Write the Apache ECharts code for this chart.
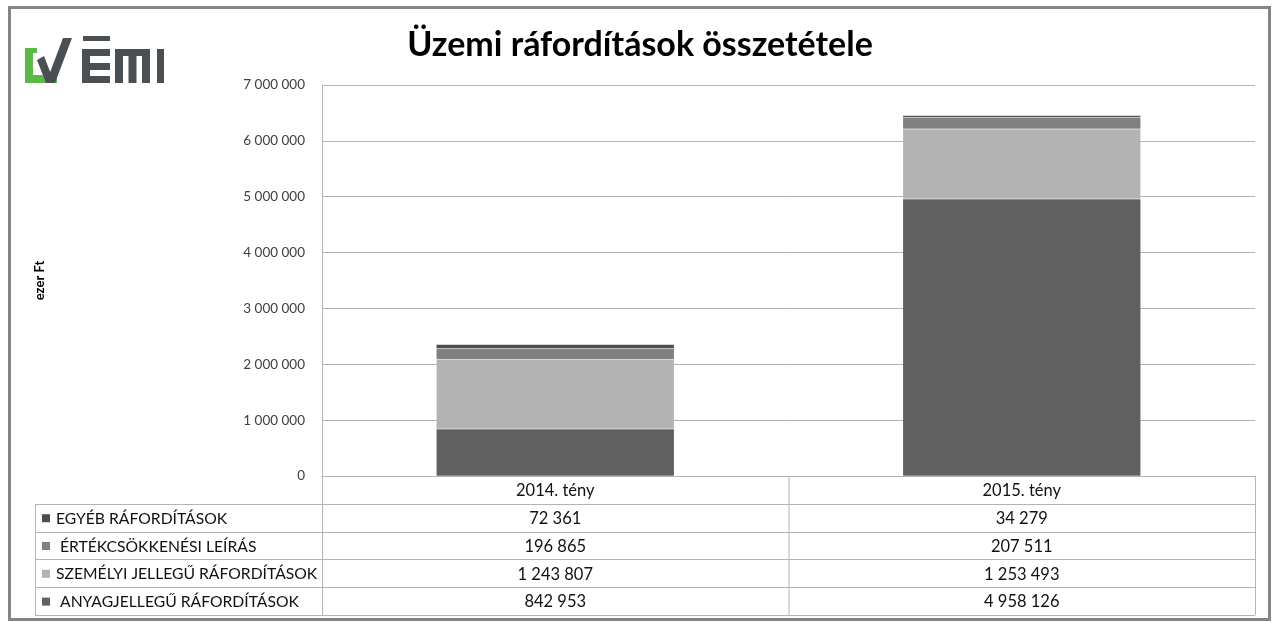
<!DOCTYPE html>
<html>
<head>
<meta charset="utf-8">
<script src="https://cdn.jsdelivr.net/npm/echarts@6/dist/echarts.min.js"></script>
<style>
  html, body { margin: 0; padding: 0; background: #fff; }
  #chart { width: 1276px; height: 622px; }
</style>
</head>
<body>
<div id="chart"></div>
<script>
// adatok
const categories = ['2014. tény', '2015. tény'];
const anyag = [842953, 4958126];
const szemelyi = [1243807, 1253493];
const ertekcsokk = [196865, 207511];
const egyeb = [72361, 34279];
const yTicks = [0, 1000000, 2000000, 3000000, 4000000, 5000000, 6000000, 7000000];

// sorrend a táblázatban (felülről lefelé)
const rows = [
  { name: 'EGYÉB RÁFORDÍTÁSOK', data: egyeb, color: '#4d4d4d', pad: '' },
  { name: 'ÉRTÉKCSÖKKENÉSI LEÍRÁS', data: ertekcsokk, color: '#808080', pad: ' ' },
  { name: 'SZEMÉLYI JELLEGŰ RÁFORDÍTÁSOK', data: szemelyi, color: '#b3b3b3', pad: '' },
  { name: 'ANYAGJELLEGŰ RÁFORDÍTÁSOK', data: anyag, color: '#606060', pad: ' ' }
];

const fmt = v => String(v).replace(/\B(?=(\d{3})+(?!\d))/g, ' ');

const GRID = { left: 322, right: 21, top: 85, bottom: 146 };
const W = 1276, H = 622;
const plotBottom = H - GRID.bottom;
const plotRight = W - GRID.right;
const tableLeft = 35;
const rowH = 27.8;
const lineColor = '#b4b4b4';
const font = 'Lato, "Open Sans", sans-serif';

const chart = echarts.init(document.getElementById('chart'));

// sávok: alulról felfelé
const stackSeries = rows.slice().reverse().map(r => ({
  name: r.name,
  type: 'bar',
  stack: 'total',
  barWidth: '51%',
  data: r.data,
  itemStyle: { color: r.color, borderColor: 'rgba(255,255,255,0.15)', borderWidth: 0.5 },
  emphasis: { disabled: true }
}));

chart.setOption({
  animation: false,
  grid: GRID,
  xAxis: {
    type: 'category',
    data: categories,
    axisLine: { lineStyle: { color: lineColor } },
    axisTick: { show: false },
    axisLabel: { show: false }
  },
  yAxis: {
    type: 'value',
    min: yTicks[0],
    max: yTicks[yTicks.length - 1],
    interval: yTicks[1] - yTicks[0],
    name: 'ezer Ft',
    nameLocation: 'middle',
    nameGap: 276,
    nameTextStyle: { fontFamily: font, fontWeight: 'bold', fontSize: 13, color: '#000' },
    axisLine: { show: true, lineStyle: { color: lineColor } },
    axisTick: { show: false },
    axisLabel: { margin: 17, fontFamily: font, fontSize: 13.5, color: '#404040', formatter: fmt },
    splitLine: { lineStyle: { color: lineColor } }
  },
  series: stackSeries
});

// táblázat, logó, keret, cím
const g = [];
const centers = categories.map(c => chart.convertToPixel({ xAxisIndex: 0 }, c));
const colEdges = [GRID.left, (centers[0] + centers[1]) / 2, plotRight];
const headTop = plotBottom;
const rowTop = i => headTop + rowH * (i + 1);
const tableBottom = rowTop(rows.length);

const line = (x1, y1, x2, y2, color, w) => ({
  type: 'line', silent: true,
  shape: { x1, y1, x2, y2 },
  style: { stroke: color || lineColor, lineWidth: w || 1 }
});

// vízszintes vonalak
for (let i = 0; i <= rows.length; i++) {
  const y = Math.round(rowTop(i)) + 0.5;
  g.push(line(tableLeft, y, plotRight, y));
}
// függőleges vonalak
g.push(line(tableLeft + 0.5, rowTop(0), tableLeft + 0.5, tableBottom));
g.push(line(colEdges[1] + 0.5, headTop, colEdges[1] + 0.5, tableBottom));
g.push(line(plotRight + 0.5, headTop, plotRight + 0.5, tableBottom));
g.push(line(GRID.left + 0.5, headTop, GRID.left + 0.5, tableBottom));

// fejléc
categories.forEach((c, j) => {
  g.push({
    type: 'text', silent: true,
    style: { x: centers[j], y: headTop + rowH / 2 + 1, text: c, align: 'center', verticalAlign: 'middle',
      font: '16.5px ' + font, fill: '#111' }
  });
});

// sorok
rows.forEach((r, i) => {
  const cy = rowTop(i) + rowH / 2 + 1;
  g.push({ type: 'rect', silent: true, shape: { x: 42, y: cy - 4.5, width: 8, height: 8 }, style: { fill: r.color } });
  g.push({
    type: 'text', silent: true,
    style: { x: 56, y: cy, text: r.pad + r.name, verticalAlign: 'middle', font: '15.7px ' + font, fill: '#111' }
  });
  r.data.forEach((v, j) => {
    g.push({
      type: 'text', silent: true,
      style: { x: centers[j], y: cy, text: fmt(v), align: 'center', verticalAlign: 'middle', font: '16.5px ' + font, fill: '#111' }
    });
  });
});

// cím
g.push({
  type: 'text', silent: true,
  style: { x: 640, y: 45, text: 'Üzemi ráfordítások összetétele', align: 'center', verticalAlign: 'middle',
    font: 'bold 34px ' + font, fill: '#000' }
});

// logó
const logoDark = '#4a4f54';
g.push({ type: 'polygon', silent: true,
  shape: { points: [[25, 48], [37, 48], [37, 53], [33, 53], [33, 75], [57, 75], [57, 83], [25, 83]] },
  style: { fill: '#5cb947' } });
g.push({ type: 'polygon', silent: true,
  shape: { points: [[37, 60], [44, 56], [50.2, 71.9], [63, 38], [72, 38], [55, 83], [46, 83]] },
  style: { fill: logoDark } });
[[83, 36, 27, 5], [82, 49, 28, 7], [82, 49, 8, 34], [82, 63, 28, 7], [82, 76, 28, 7],
 [115, 49, 35, 7], [115, 49, 8, 34], [128.5, 49, 8, 34], [142, 49, 8, 34],
 [157, 49, 7, 34]].forEach(b => {
  g.push({ type: 'rect', silent: true, shape: { x: b[0], y: b[1], width: b[2], height: b[3] }, style: { fill: logoDark } });
});

// keret
g.push({ type: 'rect', silent: true, shape: { x: 9.5, y: 7.5, width: 1260, height: 612 },
  style: { fill: null, stroke: '#858585', lineWidth: 3 } });

chart.setOption({ graphic: g });
</script>
</body>
</html>
